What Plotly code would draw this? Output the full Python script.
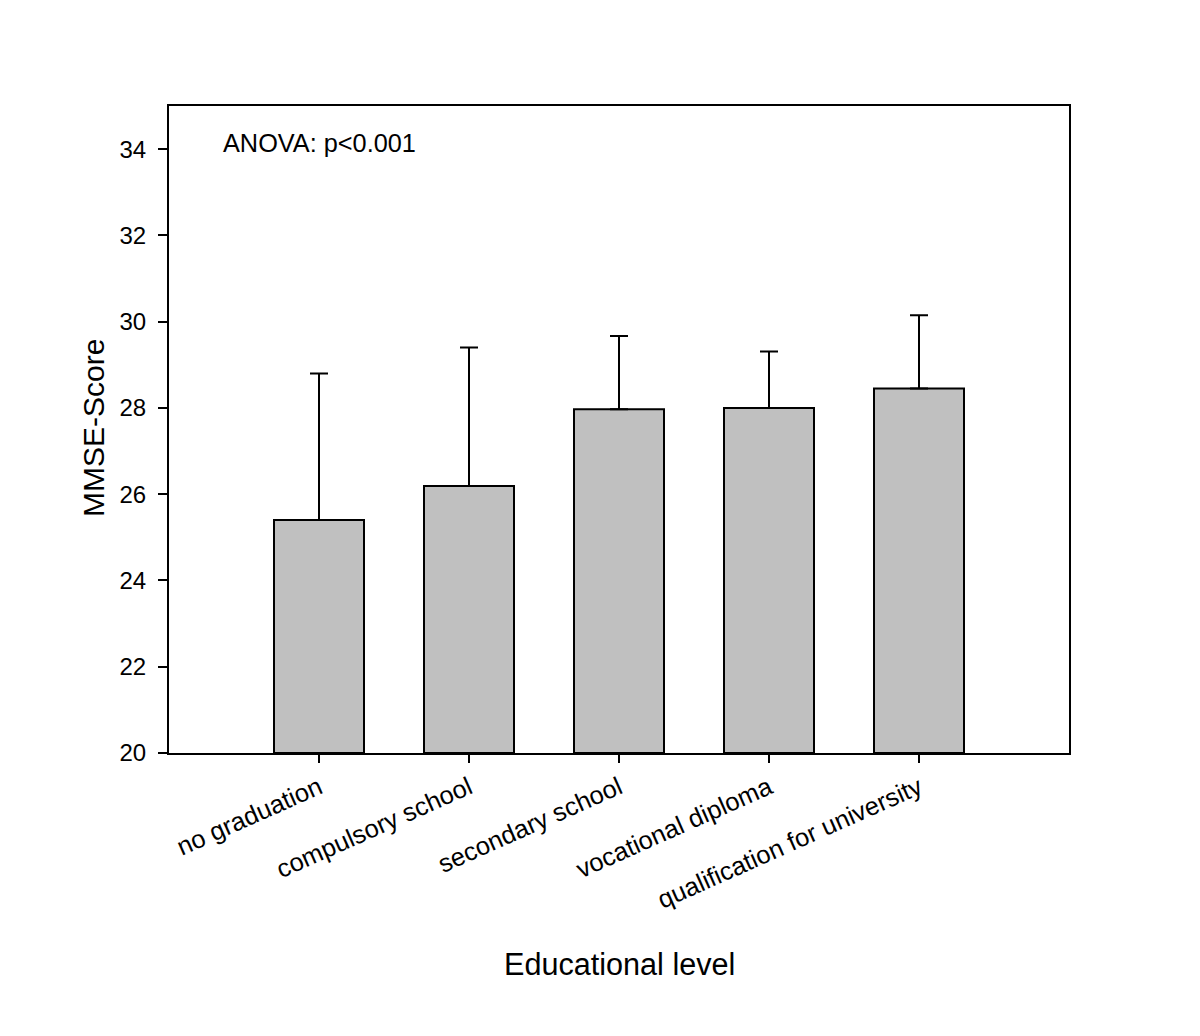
import plotly.graph_objects as go

categories = ["no graduation", "compulsory school", "secondary school",
              "vocational diploma", "qualification for university"]
means = [25.40, 26.19, 27.97, 28.00, 28.45]
sd_plus = [3.40, 3.21, 1.70, 1.31, 1.70]
positions = [1, 2, 3, 4, 5]
y_ticks = [20, 22, 24, 26, 28, 30, 32, 34]

FONT = "Liberation Sans, Arial, sans-serif"

fig = go.Figure()
fig.add_trace(go.Bar(
    x=positions, y=[m - 20 for m in means], base=20, width=0.6,
    marker=dict(color="#c0c0c0", line=dict(color="black", width=2)),
    error_y=dict(type="data", symmetric=False, array=sd_plus, arrayminus=[0]*5,
                 color="black", thickness=2, width=9),
    showlegend=False,
))

fig.update_layout(
    width=1184, height=1020,
    margin=dict(l=161, r=123, t=98, b=275),
    plot_bgcolor="white", paper_bgcolor="white",
    font=dict(family=FONT, color="black", size=24),
    xaxis=dict(range=[0, 6], tickvals=positions, ticktext=categories,
               tickangle=-24, ticks="outside", ticklen=8, tickwidth=2, tickcolor="black",
               showline=True, linecolor="black", linewidth=2, mirror=True,
               showgrid=False, zeroline=False, tickfont=dict(size=25.5)),
    yaxis=dict(range=[20, 35], tickvals=y_ticks, ticks="outside", ticklen=9,
               tickwidth=2, tickcolor="black", ticklabelstandoff=7,
               showline=True, linecolor="black", linewidth=2, mirror=True,
               showgrid=False, zeroline=False, tickfont=dict(size=24)),
    annotations=[
        dict(text="ANOVA: p<0.001", xref="paper", yref="paper", x=0.058, y=0.943,
             xanchor="left", yanchor="middle", showarrow=False, font=dict(size=25.3)),
        dict(text="Educational level", xref="paper", yref="paper", x=0.5, y=-0.326,
             xanchor="center", yanchor="middle", showarrow=False, font=dict(size=30.6)),
        dict(text="MMSE-Score", xref="paper", yref="paper", x=-0.084, y=0.503,
             xanchor="center", yanchor="middle", textangle=-90, showarrow=False,
             font=dict(size=30)),
    ],
)

fig.write_html("out.html")
